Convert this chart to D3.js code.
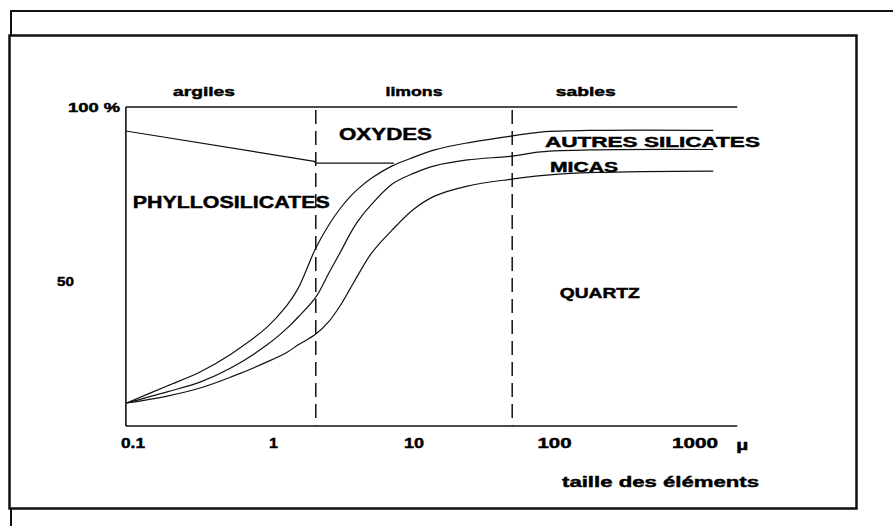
<!DOCTYPE html>
<html>
<head>
<meta charset="utf-8">
<script src="https://cdn.jsdelivr.net/npm/d3@7"></script>
<style>
  html, body { margin: 0; padding: 0; background: #fff; }
  svg { display: block; }
  text { font-family: "Liberation Sans", Arial, sans-serif; font-weight: bold; fill: #000; stroke: #000; stroke-width: 0.45; }
</style>
</head>
<body>
<svg id="chart" width="893" height="526"></svg>
<script>
// Grain sizes (µm) at which the cumulative curves are sampled
const sizes = [0.09, 0.175, 0.3, 0.5, 0.9, 1.25, 1.5, 2, 2.5, 3, 3.5, 4, 5, 7, 10, 14, 24, 50, 80, 200, 1350];
// Cumulative share (%) : quartz
const quartz = [15.0, 17.0, 19.3, 22.5, 26.8, 29.6, 31.7, 34.8, 38.6, 43.1, 47.7, 51.8, 58.1, 64.7, 70.7, 74.4, 77.3, 79.3, 80.3, 81.2, 81.6];
// Cumulative share (%) : quartz + micas
const micas = [15.0, 18.2, 21.0, 25.1, 31.7, 36.5, 39.7, 45.4, 52.6, 58.4, 63.5, 67.3, 72.1, 77.9, 81.0, 83.1, 84.8, 85.9, 87.1, 87.7, 87.8];
// Cumulative share (%) : quartz + micas + autres silicates
const autresSilicates = [15.0, 19.9, 23.9, 29.1, 36.8, 43.1, 48.0, 59.5, 66.4, 71.0, 74.2, 76.5, 79.6, 83.1, 85.6, 87.7, 89.7, 91.7, 92.8, 93.3, 93.3];

// Upper limit of the phyllosilicates (oxydes above it)
const phylloSizes = [0.089, 1.95, 2.0, 7.2];
const phylloLimit = [93.1, 84.4, 83.9, 83.9];

// Size-class limits (µm) and their names
const classLimits = [2, 50];
const classNames = ["argiles", "limons", "sables"];
const classAnchors = [0.32, 10, 167];

// Axis ticks
const xTicks = [0.1, 1, 10, 100, 1000];
const xTickLabels = ["0.1", "1", "10", "100", "1000"];
const yTicks = [100, 50];
const yTickLabels = ["100 %", "50"];
const xUnit = "µ";
const xTitle = "taille des éléments";

// Domain of the plotting frame
const xDomain = [0.089, 2000];
const yDomain = [8.4, 100];

// Mineral names and where they sit (size µm, %)
const mineralNames = ["OXYDES", "PHYLLOSILICATES", "AUTRES  SILICATES", "MICAS", "QUARTZ"];
const mineralSize = [6.27, 0.5, 85.5, 92.9, 109];
const mineralPct = [92.2, 72.7, 90.0, 82.9, 46.6];

// ---------------------------------------------------------------
const svg = d3.select("#chart");

const x = d3.scaleLog().domain([0.1, 1000]).range([133, 695]);
const y = d3.scaleLinear().domain(yDomain).range([426, 107]);

// frames
svg.append("rect")
  .attr("x", 11).attr("y", 11).attr("width", 900).attr("height", 600)
  .attr("fill", "none").attr("stroke", "#111").attr("stroke-width", 2);
svg.append("rect")
  .attr("x", 9.5).attr("y", 35.5).attr("width", 847).attr("height", 473)
  .attr("fill", "#fff").attr("stroke", "#111").attr("stroke-width", 2.5);

const g = svg.append("g");

const x0 = x(xDomain[0]), x1 = x(xDomain[1]);

// axis lines: y axis, 100 % line, x axis
g.append("line").attr("x1", x0).attr("x2", x0).attr("y1", y(yDomain[1])).attr("y2", y(yDomain[0]))
  .attr("stroke", "#111").attr("stroke-width", 1.6);
g.append("line").attr("x1", x0).attr("x2", x1).attr("y1", y(100)).attr("y2", y(100))
  .attr("stroke", "#111").attr("stroke-width", 1.5);
g.append("line").attr("x1", x0).attr("x2", x1).attr("y1", y(yDomain[0])).attr("y2", y(yDomain[0]))
  .attr("stroke", "#111").attr("stroke-width", 1.5);

// size-class limits
g.selectAll("line.limit").data(classLimits).join("line")
  .attr("class", "limit")
  .attr("x1", d => x(d)).attr("x2", d => x(d))
  .attr("y1", y(100) + 3).attr("y2", y(yDomain[0]))
  .attr("stroke", "#111").attr("stroke-width", 1.5)
  .attr("stroke-dasharray", "14,7");

// cumulative curves
const line = d3.line()
  .x(d => x(d[0])).y(d => y(d[1]))
  .curve(d3.curveCatmullRom.alpha(0.5));

[quartz, micas, autresSilicates].forEach(series => {
  g.append("path")
    .datum(sizes.map((s, i) => [s, series[i]]))
    .attr("d", line)
    .attr("fill", "none").attr("stroke", "#111").attr("stroke-width", 1.2);
});

g.append("path")
  .datum(phylloSizes.map((s, i) => [s, phylloLimit[i]]))
  .attr("d", d3.line().x(d => x(d[0])).y(d => y(d[1])))
  .attr("fill", "none").attr("stroke", "#111").attr("stroke-width", 1.2);

// text helper: centred vertically on y, stretched to a given width
function label(txt, px, py, size, width, anchor) {
  const t = g.append("text")
    .attr("x", px).attr("y", py).attr("dy", "0.35em")
    .attr("font-size", size)
    .attr("text-anchor", anchor || "middle")
    .text(txt);
  if (width) t.attr("textLength", width).attr("lengthAdjust", "spacingAndGlyphs");
  return t;
}

// class names above the frame
const classWidth = { "argiles": 62, "limons": 57, "sables": 60 };
classNames.forEach((n, i) => label(n, x(classAnchors[i]), 91, 13, classWidth[n]));

// y tick labels
const yLabelRight = { 100: 120, 50: 74 };
const yLabelWidth = { 100: 52, 50: 17 };
yTicks.forEach((v, i) => label(yTickLabels[i], yLabelRight[v], y(v), 13, yLabelWidth[v], "end"));

// x tick labels
const xLabelWidth = { "0.1": 24, "1": 9, "10": 20, "100": 34, "1000": 46 };
xTicks.forEach((v, i) => label(xTickLabels[i], x(v), 443, 15, xLabelWidth[xTickLabels[i]]));
label(xUnit, x1 + 5, 445, 15, 12);
label(xTitle, 562, 482, 15, 197, "start");

// mineral names
const nameStyle = {
  "OXYDES": { size: 16.5, width: 93, anchor: "middle" },
  "PHYLLOSILICATES": { size: 16.5, width: 197, anchor: "middle" },
  "AUTRES  SILICATES": { size: 14.5, width: 215, anchor: "start" },
  "MICAS": { size: 14.5, width: 68, anchor: "start" },
  "QUARTZ": { size: 14.5, width: 80, anchor: "start" }
};
mineralNames.forEach((n, i) => {
  const st = nameStyle[n];
  label(n, x(mineralSize[i]), y(mineralPct[i]), st.size, st.width, st.anchor);
});
</script>
</body>
</html>
